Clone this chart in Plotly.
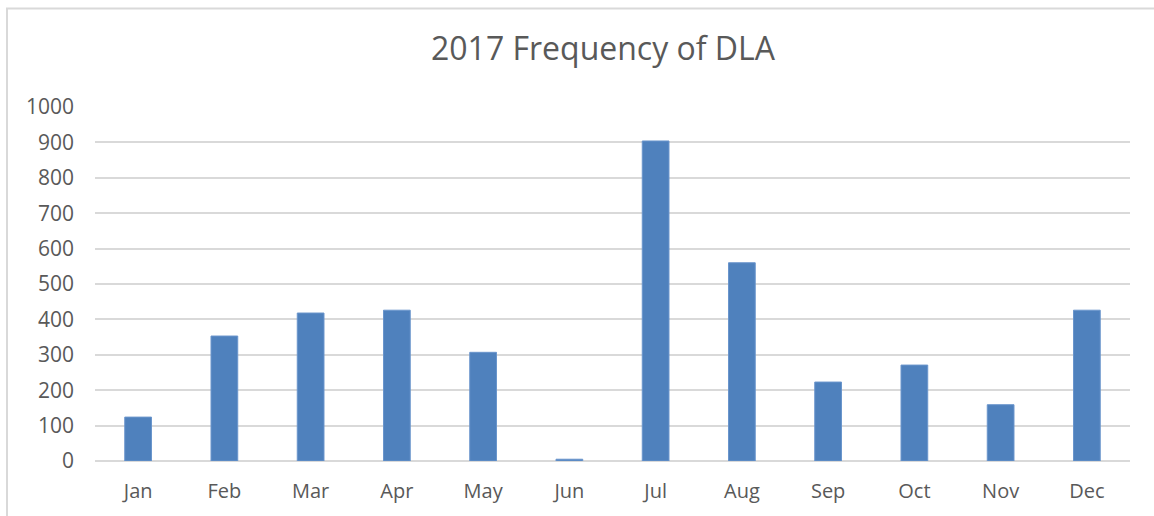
import plotly.graph_objects as go

months = ["Jan", "Feb", "Mar", "Apr", "May", "Jun", "Jul", "Aug", "Sep", "Oct", "Nov", "Dec"]
values = [124, 353, 418, 426, 307, 5, 904, 560, 223, 271, 159, 426]
y_ticks = [0, 100, 200, 300, 400, 500, 600, 700, 800, 900, 1000]
title_text = "2017 Frequency of DLA"

W, H = 1154, 516
L, R, T, B = 95, 24, 107, 55
pw, ph = W - L - R, H - T - B

fig = go.Figure(go.Bar(
    x=months, y=values,
    marker=dict(color="#4F81BD", line=dict(color="#6A95CC", width=1)),
    width=0.31,
))

def px_to_paper_x(px):
    return (px - L) / pw

def px_to_paper_y(py):
    return (H - B - py) / ph

fig.update_layout(
    width=W, height=H,
    margin=dict(l=L, r=R, t=T, b=B),
    paper_bgcolor="white", plot_bgcolor="white",
    font=dict(family="Open Sans", color="#595959", size=20),
    title=dict(text=title_text, x=603 / W, xanchor="center",
               y=1 - 49 / H, yanchor="middle",
               font=dict(family="Open Sans", size=32, color="#595959")),
    showlegend=False,
    xaxis=dict(showgrid=False, showline=False, ticks="", ticklabelstandoff=16,
               tickfont=dict(size=20, color="#595959")),
    yaxis=dict(range=[0, 1000], tickvals=y_ticks, showgrid=True, gridcolor="#D9D9D9",
               gridwidth=1.5, zeroline=True, zerolinecolor="#D9D9D9", zerolinewidth=1.5,
               showline=False, ticks="", ticklabelstandoff=20,
               tickfont=dict(size=21, color="#595959")),
    shapes=[dict(type="rect", xref="paper", yref="paper",
                 x0=px_to_paper_x(7), x1=px_to_paper_x(1175),
                 y0=px_to_paper_y(535), y1=px_to_paper_y(8.5),
                 line=dict(color="#D9D9D9", width=2), fillcolor="rgba(0,0,0,0)", layer="below")],
)

fig.write_html("out.html", config={"displayModeBar": False},
               post_script="document.body.style.margin='0';document.body.style.overflow='hidden';")
